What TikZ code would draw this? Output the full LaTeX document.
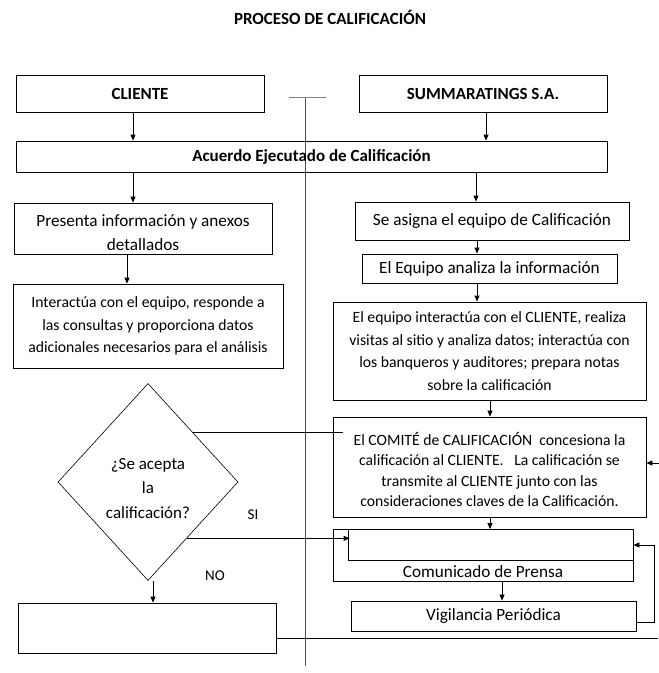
\documentclass[tikz,border=0pt]{standalone}
\usepackage{fontspec}
\setmainfont{Carlito}
\usetikzlibrary{arrows.meta,positioning,shapes.geometric,calc}

\tikzset{
  box/.style={draw,line width=0.8pt,inner sep=2pt,align=center},
  head/.style={box,font=\fontsize{17}{20}\selectfont\bfseries},
  txt/.style={box,font=\fontsize{17.2}{24}\selectfont},
  small/.style={box,inner xsep=0.5pt,font=\fontsize{15.7}{22.5}\selectfont},
  flow/.style={->,line width=0.8pt},
}
\newcommand{\pushdown}[1]{\rule{0pt}{#1}}

\begin{document}
\begin{tikzpicture}[x=1pt,y=-1pt,>={Triangle[length=6pt,width=5pt]}]
  \useasboundingbox (0,0) rectangle (659,673);
  \node[font=\fontsize{17}{20}\selectfont\bfseries] (title) at (330,17) {PROCESO DE CALIFICACIÓN};

  % columna central
  \coordinate (topT) at (305,97);
  \coordinate (botT) at (305,666);
  \draw[line width=0.8pt,gray!60!black] (topT) -- (botT);
  \draw[line width=1pt,gray] ([xshift=-16pt]topT) -- ([xshift=21pt]topT);

  % cajas superiores
  \node[head,minimum width=248pt,minimum height=37pt] (cliente) at (140,93.5) {CLIENTE};
  \node[head,minimum width=248pt,minimum height=37pt] (summa) at (483,93.5) {SUMMARATINGS S.A.};
  \node[head,minimum width=591pt,minimum height=31pt] (acuerdo) at (311.5,156.5) {Acuerdo Ejecutado de Calificación};

  % lado cliente
  \node[txt,minimum width=258pt,minimum height=51pt] (presenta) at (143,228.5) {\pushdown{20pt}Presenta información y anexos\\detallados};
  \node[small,minimum width=270pt,minimum height=84pt] (interact) at (148,326) {Interactúa con el equipo, responde a\\las consultas y proporciona datos\\adicionales necesarios para el análisis};
  \node[draw,diamond,line width=0.6pt,minimum width=180pt,minimum height=197pt,inner sep=0pt,align=center,
        font=\fontsize{17}{24.5}\selectfont] (dec) at (148,482) {\pushdown{24pt}¿Se acepta\\la\\calificación?};
  \node[box,minimum width=258pt,minimum height=50pt] (nobox) at (147,628) {};
  \node[font=\fontsize{15}{18}\selectfont] (si) at (253,515) {SI};
  \node[font=\fontsize{15}{18}\selectfont] (no) at (215,576) {NO};

  % lado calificadora
  \node[txt,minimum width=274pt,minimum height=38pt] (asigna) at (492,221) {Se asigna el equipo de Calificación};
  \node[txt,minimum width=255pt,minimum height=29pt] (analiza) at (489.5,268.5) {El Equipo analiza la información};
  \node[small,minimum width=313pt,minimum height=98pt] (equipo) at (489.5,351) {El equipo interactúa con el CLIENTE, realiza\\visitas al sitio y analiza datos; interactúa con\\los banqueros y auditores; prepara notas\\sobre la calificación};
  \node[small,font=\fontsize{15.7}{20.3}\selectfont,minimum width=313pt,minimum height=100pt] (comite) at (489.5,467) {\pushdown{18pt}El COMITÉ de CALIFICACIÓN\ \ concesiona la\\calificación al CLIENTE.\ \ \ La calificación se\\transmite al CLIENTE junto con las\\consideraciones claves de la Calificación.};
  \node[box,minimum width=300pt,minimum height=52pt,
        label={[anchor=south,yshift=0.5pt,font=\fontsize{17.2}{20}\selectfont]south:Comunicado de Prensa}] (prensa) at (483,555.5) {};
  \node[box,minimum width=285pt,minimum height=31pt] (prensain) at (490.5,545) {};
  \node[txt,minimum width=285pt,minimum height=30pt] (vigil) at (493.5,616) {Vigilancia Periódica};

  % conectores
  \draw[flow] ([xshift=-7pt]cliente.south) -- ([xshift=-7pt]cliente.south |- acuerdo.north);
  \draw[flow] ([xshift=3pt]summa.south) -- ([xshift=3pt]summa.south |- acuerdo.north);
  \draw[flow] ([xshift=-10pt]presenta.north |- acuerdo.south) -- ([xshift=-10pt]presenta.north);
  \draw[flow] ([xshift=-16pt]asigna.north |- acuerdo.south) -- ([xshift=-16pt]asigna.north);
  \draw[flow] ([xshift=-12.5pt]analiza.north |- asigna.south) -- ([xshift=-12.5pt]analiza.north);
  \draw[flow] ([xshift=-12.5pt]analiza.south) -- ([xshift=-12.5pt]analiza.south |- equipo.north);
  \draw[flow] ([xshift=-16pt]presenta.south) -- ([xshift=-16pt]presenta.south |- interact.north);
  \draw[flow] ([xshift=0.5pt]equipo.south) -- ([xshift=0.5pt]equipo.south |- comite.north);
  \draw[flow] ([xshift=0.5pt]comite.south) -- ([xshift=0.5pt]comite.south |- prensain.north);
  \draw[flow] ([xshift=19pt]prensa.south) -- ([xshift=19pt]prensa.south |- vigil.north);
  \draw[flow] ([yshift=-6pt]vigil.east) -- ++(18,0) |- (prensain.east);

  \draw[line width=0.8pt] (dec.north east) -- ([xshift=10pt]dec.north east -| comite.west);
  \coordinate (sipt) at ($(dec.east)!0.57!(dec.south)$);
  \draw[flow] (sipt) -- ([xshift=2pt]sipt -| prensain.west);
  \draw[flow] ([xshift=5pt]dec.south) -- ([xshift=5pt]dec.south |- nobox.north);

  \coordinate (rin) at (659,463);
  \draw[flow] (rin) -- (rin -| comite.east);
  \coordinate (rout) at (658,638);
  \draw[line width=0.8pt] (nobox.east |- rout) -- (rout);
\end{tikzpicture}
\end{document}
